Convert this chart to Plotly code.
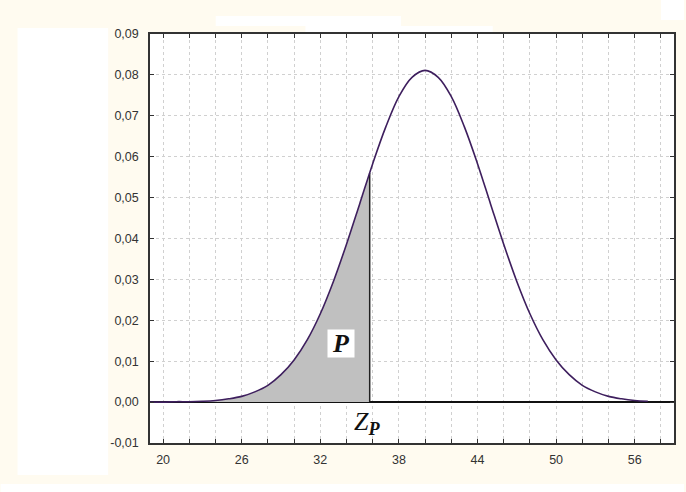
import plotly.graph_objects as go

# ---- data ----
x_curve = [19, 20, 21, 22, 23, 24, 25, 26, 27, 28, 29, 30, 31, 32, 33, 34, 35, 36, 37, 38,
           39, 40, 41, 42, 43, 44, 45, 46, 47, 48, 49, 50, 51, 52, 53, 54, 55, 56, 57]
y_curve = [0.0000, 0.0000, 0.0001, 0.0001, 0.0002, 0.0004, 0.0008, 0.0014, 0.0025, 0.0041,
           0.0067, 0.0103, 0.0152, 0.0216, 0.0295, 0.0386, 0.0484, 0.0583, 0.0673, 0.0747,
           0.0794, 0.0811, 0.0794, 0.0747, 0.0673, 0.0583, 0.0484, 0.0386, 0.0295, 0.0216,
           0.0152, 0.0103, 0.0067, 0.0041, 0.0025, 0.0014, 0.0008, 0.0004, 0.0002]

z_p = 35.77          # right edge of shaded area
z_p_height = 0.0560  # curve height at z_p

x_fill = [v for v in x_curve if v < z_p] + [z_p]
y_fill = [y for v, y in zip(x_curve, y_curve) if v < z_p] + [z_p_height]

x_major_ticks = [20, 26, 32, 38, 44, 50, 56]
x_major_labels = ["20", "26", "32", "38", "44", "50", "56"]
x_minor_ticks = [22, 24, 28, 30, 34, 36, 40, 42, 46, 48, 52, 54, 58]
y_ticks = [-0.01, 0.0, 0.01, 0.02, 0.03, 0.04, 0.05, 0.06, 0.07, 0.08, 0.09]
y_labels = ["-0,01", "0,00", "0,01", "0,02", "0,03", "0,04", "0,05", "0,06", "0,07", "0,08", "0,09"]

label_P = "<b><i>P</i></b>"
label_Z = "<i>Z</i><sub><b><i>P</i></b></sub>"

# ---- figure ----
W, H = 686, 492
ML, MR, MT, MB = 150, 10, 34, 49

fig = go.Figure()
fig.add_trace(go.Scatter(x=x_fill, y=y_fill, mode="lines", fill="tozeroy",
                         fillcolor="#c0c0c0", line=dict(width=0, shape="spline"),
                         hoverinfo="skip", showlegend=False))
fig.add_trace(go.Scatter(x=[z_p, z_p], y=[0, z_p_height], mode="lines",
                         line=dict(color="#202020", width=1.5), showlegend=False))
fig.add_trace(go.Scatter(x=x_curve, y=y_curve, mode="lines",
                         line=dict(color="#3e1f5e", width=1.6, shape="spline"),
                         showlegend=False))

serif = "Liberation Serif, Times New Roman, serif"
fig.add_annotation(x=33.6, y=0.01445, xref="x", yref="y", text=label_P, showarrow=False,
                   font=dict(family=serif, size=26, color="#111"),
                   bgcolor="white", width=24, height=25, xanchor="center", yanchor="middle")
fig.add_annotation(x=35.57, y=-0.0052, xref="x", yref="y", text=label_Z, showarrow=False,
                   font=dict(family=serif, size=26, color="#111"),
                   xanchor="center", yanchor="middle")

pw = W - ML - MR
ph = H - MT - MB
def px(x):
    return (x - ML) / pw
def py(y):
    return (H - MB - y) / ph

white_boxes = [(17, 108, 28, 475), (0, 686, 484, 492), (663, 686, 0, 20),
               (216, 402, 16, 26), (306, 494, 26, 33)]
for x0, x1, y0, y1 in white_boxes:
    fig.add_shape(type="rect", xref="paper", yref="paper",
                  x0=px(x0), x1=px(x1), y0=py(y1), y1=py(y0),
                  fillcolor="white", line=dict(width=0), layer="below")

grid = dict(showgrid=True, gridcolor="#d0d0d0", gridwidth=1, griddash="dot")
tick = dict(ticks="inside", ticklen=4, tickcolor="#333", tickwidth=1.3)
axis_common = dict(showline=True, linecolor="#333", linewidth=1.5, mirror="ticks",
                   tickfont=dict(family="Liberation Sans, Arial, sans-serif", size=12.5,
                                 color="#333"),
                   **grid, **tick)

fig.update_xaxes(range=[19, 59], tickvals=x_major_ticks, ticktext=x_major_labels,
                 minor=dict(tickvals=x_minor_ticks, **grid, **tick),
                 zeroline=False, ticklabelstandoff=4, **axis_common)
fig.update_yaxes(range=[-0.01, 0.09], tickvals=y_ticks, ticktext=y_labels,
                 zeroline=True, zerolinecolor="#111", zerolinewidth=1.5,
                 ticklabelstandoff=7, **axis_common)

fig.update_layout(width=W, height=H, margin=dict(l=ML, r=MR, t=MT, b=MB),
                  paper_bgcolor="#fffbf0", plot_bgcolor="white", showlegend=False)

fig.write_html("out.html", config={"displayModeBar": False},
               post_script="document.body.style.margin='0';")
